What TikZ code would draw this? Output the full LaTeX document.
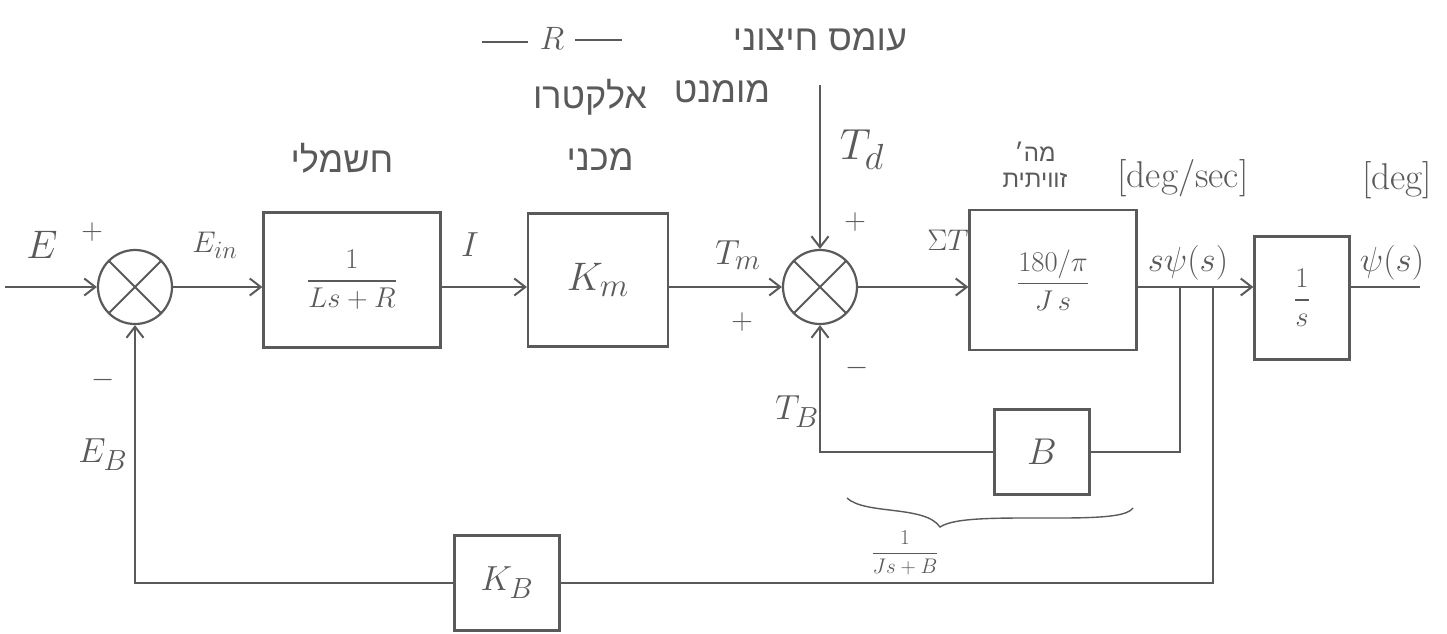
\documentclass[tikz,border=0pt]{standalone}
\usepackage{graphicx}
\usepackage{amsmath}
\usepackage{fontspec}
\newfontfamily\heb[Script=Hebrew]{Liberation Sans}
\TeXXeTstate=1
\usetikzlibrary{arrows.meta}
\definecolor{pencil}{RGB}{90,90,90}
\newcommand{\sbx}[2]{\scalebox{#1}{#2}}
\begin{document}
\begin{tikzpicture}[x=1pt,y=-1pt,
  line width=2.2pt, draw=pencil, text=pencil,
  font=\Huge,
  >={Straight Barb[length=11pt,width=17pt,line width=2pt]},
  blk/.style={draw, line width=2.2pt, inner sep=0pt},
  sumj/.style={draw, circle, minimum size=74pt, inner sep=0pt,
    path picture={\draw[line width=2pt,pencil]
      (path picture bounding box.north west) -- (path picture bounding box.south east)
      (path picture bounding box.north east) -- (path picture bounding box.south west);}},
  lbl/.style={inner sep=1pt},
  hebl/.style={inner sep=1pt, font=\fontsize{36}{40}\heb}]
\fill[white] (0,0) rectangle (1447,633);
\useasboundingbox (0,0) rectangle (1447,633);

% junctions and blocks
\node[sumj] (s1) at (135,287) {};
\node[sumj] (s2) at (820,287) {};
\node[blk, minimum width=177, minimum height=135] (g1) at (352,280) {\sbx{1.15}{$\dfrac{1}{Ls+R}$}};
\node[blk, minimum width=140, minimum height=133] (km) at (598,280) {\sbx{1.6}{$K_m$}};
\node[blk, minimum width=167, minimum height=140] (gj) at (1053,280) {\sbx{1.15}{$\dfrac{180/\pi}{J\,s}$}};
\node[blk, minimum width=95, minimum height=123] (gi) at (1302,298) {\sbx{1.15}{$\dfrac{1}{s}$}};
\node[blk, minimum width=95, minimum height=85] (bb) at (1042,452) {\sbx{1.5}{$B$}};
\node[blk, minimum width=105, minimum height=95] (kb) at (507,583) {\sbx{1.4}{$K_B$}};

% free ends and pick-off points
\coordinate (in) at (5,287);
\coordinate (out) at (1420,287);
\coordinate (td) at (820,85);
\coordinate (pb) at (1180,287);
\coordinate (pk) at (1213,287);

% forward path
\draw[->] (in) -- (s1);
\draw[->] (s1) -- (g1.west |- s1);
\draw[->] (g1.east |- s1) -- (km.west |- s1);
\draw[->] (km.east |- s1) -- (s2);
\draw[->] (td) -- (s2);
\draw[->] (s2) -- (gj.west |- s2);
\draw[->] (gj.east |- s2) -- (gi.west |- s2);
\draw (gi.east |- s2) -- (out);

% feedback paths
\draw (pb) |- (bb.east);
\draw[->] (bb.west) -| (s2.south);
\draw (pk) |- (kb.east);
\draw[->] (kb.west) -| (s1.south);

% brace under the inner loop
\draw[line width=1.4pt] (847,498) .. controls (865,515) and (925,505) .. (940,527)
  .. controls (955,517) and (1000,518) .. (1060,518) .. controls (1110,518) and (1128,515) .. (1133,508);

% labels
\node[lbl] (lE) at (42,245) {\sbx{1.6}{$E$}};
\node[lbl] (lEp) at (92,232) {\sbx{1.2}{$+$}};
\node[lbl] (lEin) at (215,245) {\sbx{1.2}{$E_{in}$}};
\node[lbl] (lI) at (470,245) {\sbx{1.4}{$I$}};
\node[lbl] (lTm) at (738,255) {\sbx{1.4}{$T_m$}};
\node[lbl] (lpm) at (742,322) {\sbx{1.2}{$+$}};
\node[lbl] (lTd) at (862,150) {\sbx{1.75}{$T_d$}};
\node[lbl] (lpd) at (855,222) {\sbx{1.2}{$+$}};
\node[lbl] (lsT) at (948,240) {\sbx{1.2}{$\Sigma T$}};
\node[lbl] (lm2) at (857,368) {\sbx{1.2}{$-$}};
\node[lbl] (lTB) at (797,412) {\sbx{1.4}{$T_B$}};
\node[lbl] (lm1) at (103,380) {\sbx{1.2}{$-$}};
\node[lbl] (lEB) at (103,455) {\sbx{1.4}{$E_B$}};
\node[lbl] (lsp) at (1188,263) {\sbx{1.4}{$s\psi(s)$}};
\node[lbl] (lps) at (1392,263) {\sbx{1.4}{$\psi(s)$}};
\node[lbl] (ldps) at (1183,178) {\sbx{1.5}{[deg/sec]}};
\node[lbl] (ldeg) at (1397,180) {\sbx{1.5}{[deg]}};
\node[lbl] (lfr) at (905,553) {\sbx{0.85}{$\dfrac{1}{Js+B}$}};
\node[lbl] (lR) at (552,38) {\sbx{1.3}{$R$}};
\draw (482,42) -- (528,42);
\draw (575,40) -- (622,40);

% Hebrew annotations
\node[hebl] (h1) at (820,40) {\beginR עומס חיצוני\endR};
\node[hebl] (h2) at (590,97) {\beginR אלקטרו\endR};
\node[hebl] (h3) at (722,92) {\beginR מומנט\endR};
\node[hebl] (h4) at (342,158) {\beginR חשמלי\endR};
\node[hebl] (h5) at (600,160) {\beginR מכני\endR};
\node[hebl, font=\fontsize{24}{26}\heb, align=center] (h6) at (1035,165) {\beginR מה׳\endR\\\beginR זוויתית\endR};
\end{tikzpicture}
\end{document}
